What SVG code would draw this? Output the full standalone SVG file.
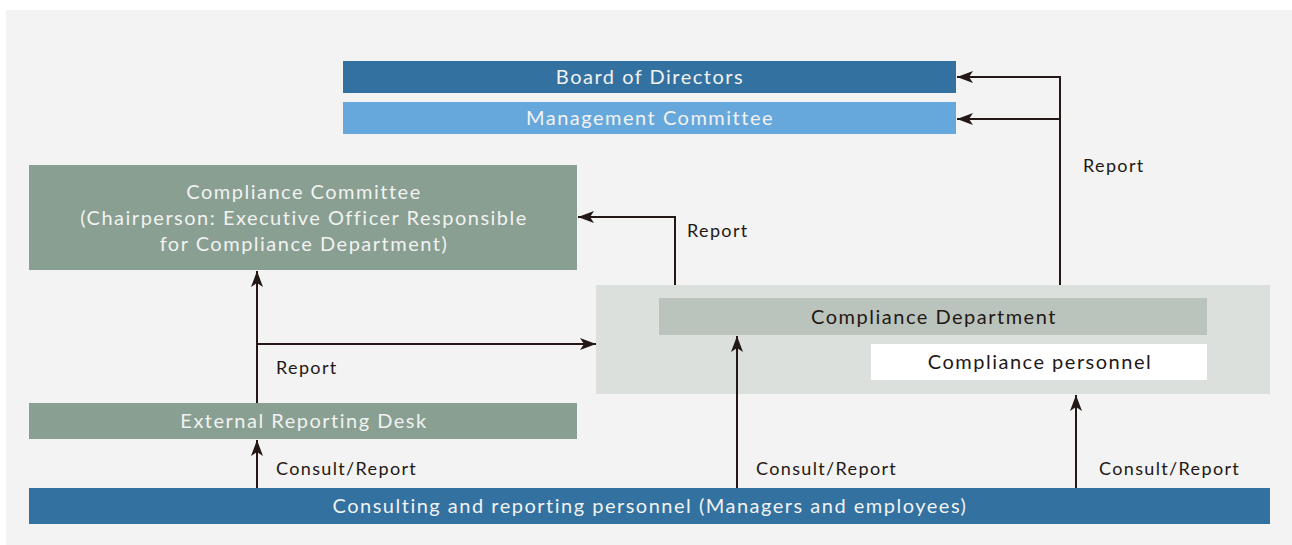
<svg xmlns="http://www.w3.org/2000/svg" width="1292" height="545" viewBox="0 0 1292 545">
<defs>
<style>
.t{font-family:Lato,"Noto Sans",sans-serif;font-size:20px;text-anchor:middle;letter-spacing:1.5px}
.w{fill:#f2f2f2}
.d{fill:#231815}
.l{font-family:Lato,"Noto Sans",sans-serif;font-size:18px;fill:#231815;letter-spacing:1.35px}
.c{fill:none;stroke:#231815;stroke-width:2}
</style>
<marker id="ah" markerWidth="16" markerHeight="12" refX="16" refY="6" orient="auto" markerUnits="userSpaceOnUse">
<path d="M0,0 L16,6 L0,12 L4,6 Z" fill="#231815"/>
</marker>
</defs>
<rect x="0" y="0" width="1292" height="545" fill="#ffffff"/>
<rect x="6" y="10" width="1286" height="535" fill="#f3f3f3"/>
<g id="board">
<rect x="343" y="61" width="613" height="32" fill="#3371a0"/>
<text class="t w" x="650" y="84">Board of Directors</text>
</g>
<g id="management">
<rect x="343" y="102" width="613" height="32" fill="#66a8dc"/>
<text class="t w" x="650" y="125">Management Committee</text>
</g>
<g id="committee">
<rect x="29" y="165" width="548" height="105" fill="#889f91"/>
<text class="t w" x="304" y="199">Compliance Committee</text>
<text class="t w" x="304" y="225">(Chairperson: Executive Officer Responsible</text>
<text class="t w" x="304" y="251">for Compliance Department)</text>
</g>
<g id="dept">
<rect x="596" y="285" width="674" height="109" fill="#dce0dd"/>
<rect x="659" y="298" width="548" height="37" fill="#bac4bc"/>
<text class="t d" x="934" y="324">Compliance Department</text>
</g>
<g id="personnel">
<rect x="871" y="344" width="336" height="36" fill="#ffffff"/>
<text class="t d" x="1040" y="369">Compliance personnel</text>
</g>
<g id="desk">
<rect x="29" y="403" width="548" height="36" fill="#889f91"/>
<text class="t w" x="304" y="428">External Reporting Desk</text>
</g>
<g id="employees">
<rect x="29" y="488" width="1241" height="36" fill="#3371a0"/>
<text class="t w" x="650" y="513">Consulting and reporting personnel (Managers and employees)</text>
</g>
<g id="connectors">
<path class="c" d="M257,403 V271" marker-end="url(#ah)"/>
<path class="c" d="M257,344 H596" marker-end="url(#ah)"/>
<path class="c" d="M675,285 V217 H578" marker-end="url(#ah)"/>
<path class="c" d="M1060,285 V77 H957" marker-end="url(#ah)"/>
<path class="c" d="M1060,119 H957" marker-end="url(#ah)"/>
<path class="c" d="M257,488 V440" marker-end="url(#ah)"/>
<path class="c" d="M737,488 V336" marker-end="url(#ah)"/>
<path class="c" d="M1076,488 V395" marker-end="url(#ah)"/>
<text class="l" x="1083" y="172">Report</text>
<text class="l" x="687" y="237">Report</text>
<text class="l" x="276" y="374">Report</text>
<text class="l" x="276" y="475">Consult/Report</text>
<text class="l" x="756" y="475">Consult/Report</text>
<text class="l" x="1099" y="475">Consult/Report</text>
</g>
</svg>
